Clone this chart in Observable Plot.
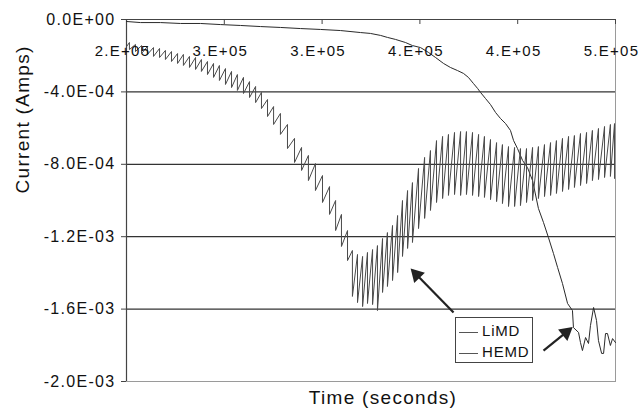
<!DOCTYPE html>
<html>
<head>
<meta charset="utf-8">
<script src="https://cdn.jsdelivr.net/npm/d3@7"></script>
<script src="https://cdn.jsdelivr.net/npm/@observablehq/plot@0.6"></script>
<style>
  html, body { margin: 0; padding: 0; background: #fff; }
  #wrap { position: relative; width: 640px; height: 420px; font-family: "Liberation Sans", Arial, sans-serif; overflow: hidden; }
  #wrap svg text { letter-spacing: 1.3px; }
  #wrap svg text.xtick { letter-spacing: 1.1px; }
  #wrap svg text.ytitle { letter-spacing: 2.6px; }
  #wrap svg text.xtitle { letter-spacing: 1px; }
  .legend { position: absolute; left: 455px; top: 317px; width: 78px; height: 46px; border: 1px solid #444; background: #fff; box-sizing: border-box; font-size: 15px; letter-spacing: 0.8px; color: #111; white-space: nowrap; }
  .legend .row { position: absolute; left: 3px; height: 18px; line-height: 18px; }
  .legend .sw { display: inline-block; width: 19px; height: 0; border-top: 1px solid #555; vertical-align: middle; margin-right: 4px; }
</style>
</head>
<body>
<div id="wrap"></div>
<script>
// ---- data (time in ks, current in microamps) ----
const seriesNames = ["LiMD", "HEMD"];

// LiMD: sawtooth – each tooth is a peak followed by a sudden drop to a trough at the same time
const limdStart = { t: 200.0, i: -150 };
const limdT = [201.5,204.6,207.7,210.7,213.8,216.9,219.9,223.0,226.1,229.1,232.2,235.3,238.3,241.4,244.5,247.5,250.6,253.7,256.7,259.8,
  262.9,266.0,269.0,272.1,275.2,278.7,282.3,285.9,289.5,293.0,296.6,300.2,303.8,306.9,309.9,313.0,315.5,318.1,320.7,323.2,
  325.8,328.3,330.9,333.4,336.0,338.6,341.1,343.7,346.2,349.3,352.4,355.4,358.5,361.6,364.6,367.7,370.8,373.8,376.9,380.0,
  383.0,386.1,389.2,392.2,395.3,398.4,401.4,404.5,407.6,410.6,413.7,416.8,419.8,422.9,426.0,429.0,432.1,435.2,438.2,441.3,
  444.4,447.4,449.5];
const limdPeak = [-127,-138,-144,-149,-155,-160,-171,-177,-188,-193,-204,-210,-221,-232,-243,-254,-271,-287,-304,-320,
  -343,-370,-403,-442,-481,-519,-580,-657,-707,-751,-796,-862,-923,-1000,-1077,-1166,-1276,-1298,-1309,-1287,
  -1271,-1249,-1210,-1177,-1138,-1083,-1000,-945,-901,-823,-762,-724,-669,-646,-635,-624,-619,-619,-624,-635,
  -646,-663,-680,-691,-702,-707,-713,-713,-707,-702,-691,-680,-669,-657,-646,-641,-630,-624,-613,-602,
  -591,-580,-575];
const limdTrough = [-166,-177,-188,-193,-204,-210,-221,-232,-243,-254,-265,-276,-287,-304,-320,-337,-359,-376,-392,-409,
  -431,-459,-492,-536,-580,-635,-713,-790,-834,-890,-945,-1011,-1077,-1166,-1254,-1332,-1530,-1564,-1586,-1569,
  -1575,-1608,-1508,-1475,-1442,-1398,-1309,-1265,-1232,-1155,-1099,-1055,-1011,-989,-972,-967,-972,-967,-972,-978,
  -983,-995,-1006,-1017,-1033,-1033,-1028,-1011,-1000,-989,-978,-972,-961,-950,-939,-928,-917,-906,-890,-884,
  -873,-867,-878];

// HEMD
const hemdT = [200.0,207.2,217.4,227.6,237.8,248.1,258.3,268.5,278.7,289.0,299.2,309.4,319.6,324.7,329.9,333.4,337.5,342.6,346.2,350.3,
  354.4,358.0,362.1,365.6,369.2,372.3,374.8,377.4,379.5,381.0,383.5,386.1,388.7,391.2,393.8,396.3,397.9,399.9,402.5,405.0,
  407.6,410.6,413.2,415.7,418.3,420.4,422.9,425.5,428.0,428.5,431.1,432.1,433.1,434.7,436.2,437.2,438.8,440.3,441.3,442.9,
  443.9,444.9,445.9,447.4,448.5,450.0];
const hemdI = [-11,-17,-17,-22,-22,-28,-33,-39,-44,-50,-55,-61,-72,-77,-88,-99,-110,-127,-144,-155,
  -182,-210,-243,-265,-282,-298,-320,-354,-381,-403,-436,-470,-514,-547,-575,-613,-669,-713,-779,-818,
  -890,-1044,-1122,-1204,-1293,-1370,-1459,-1569,-1608,-1702,-1729,-1785,-1829,-1757,-1790,-1691,-1591,-1663,-1774,-1845,
  -1845,-1735,-1735,-1801,-1763,-1785];

// axes
const xTicks = [200, 250, 300, 350, 400, 450];
const xTickLabels = ["2.E+05", "3.E+05", "3.E+05", "4.E+05", "4.E+05", "5.E+05"];
const yTicks = [0, -400, -800, -1200, -1600, -2000];
const yTickLabels = ["0.0E+00", "-4.0E-04", "-8.0E-04", "-1.2E-03", "-1.6E-03", "-2.0E-03"];
const xTitle = "Time (seconds)";
const yTitle = "Current (Amps)";

// annotation arrows (from legend toward series)
const arrowX1 = [367.2, 413.2];
const arrowY1 = [-1619, -1829];
const arrowX2 = [346.2, 426.0];
const arrowY2 = [-1387, -1718];
const arrowHeadAngle = [-44, 51];

// ---- build ----
const limd = [limdStart];
limdT.forEach((t, k) => { limd.push({ t, i: limdPeak[k] }); limd.push({ t, i: limdTrough[k] }); });
const hemd = hemdT.map((t, k) => ({ t, i: hemdI[k] }));
const arrows = arrowX1.map((x, k) => ({ x1: x, y1: arrowY1[k], x2: arrowX2[k], y2: arrowY2[k], a: arrowHeadAngle[k] }));
const yLab = new Map(yTicks.map((d, k) => [d, yTickLabels[k]]));

const chart = Plot.plot({
  width: 640, height: 420,
  marginLeft: 126, marginRight: 25, marginTop: 19, marginBottom: 39,
  style: { fontFamily: "Liberation Sans, Arial, sans-serif", fontSize: "16px", background: "#fff", color: "#111", overflow: "visible" },
  x: { domain: [200, 450], axis: null },
  y: { domain: [-2000, 0], axis: null },
  marks: [
    Plot.frame({ stroke: "#9a9a9a" }),
    Plot.ruleY(yTicks.slice(1, -1), { stroke: "#333", strokeWidth: 1.2 }),
    Plot.ruleY([0], { stroke: "#444", strokeWidth: 1.2 }),
    Plot.ruleX([200], { stroke: "#444", strokeWidth: 1.2 }),
    Plot.ruleX(xTicks, { stroke: "#444", insetBottom: 357 }),
    Plot.line(hemd, { x: "t", y: "i", stroke: "#2a2a2a", strokeWidth: 1 }),
    Plot.line(limd, { x: "t", y: "i", stroke: "#4a4a4a", strokeWidth: 1 }),
    Plot.text(xTicks, { x: d => d, frameAnchor: "top", dy: 26, dx: -4, text: (d, k) => xTickLabels[k], fontSize: 15, fill: "#111", className: "xtick" }),
    Plot.axisY({ ticks: yTicks, tickFormat: d => yLab.get(d), tickSize: 5, tickPadding: 6, label: null, fontSize: 16, stroke: "#444" }),
    Plot.text([yTitle], { frameAnchor: "left", dx: -104, dy: -7, rotate: -90, fontSize: 19, fill: "#111", className: "ytitle" }),
    Plot.text([xTitle], { frameAnchor: "bottom", dy: 22, dx: 12, fontSize: 19, fill: "#111", className: "xtitle" }),
    Plot.link(arrows, { x1: "x1", y1: "y1", x2: "x2", y2: "y2", stroke: "#222", strokeWidth: 2.2 }),
    Plot.dot(arrows, { x: d => d.x2 + (d.x1 - d.x2) * 0.1, y: d => d.y2 + (d.y1 - d.y2) * 0.1, symbol: "triangle", rotate: "a", r: 5.5, fill: "#222", stroke: "none" })
  ]
});

const wrap = document.getElementById("wrap");
wrap.appendChild(chart);
const lg = document.createElement("div");
lg.className = "legend";
seriesNames.forEach((n, k) => {
  const r = document.createElement("div");
  r.className = "row";
  r.style.top = (4 + k * 21) + "px";
  r.innerHTML = '<span class="sw"></span>' + n;
  lg.appendChild(r);
});
wrap.appendChild(lg);
</script>
</body>
</html>
